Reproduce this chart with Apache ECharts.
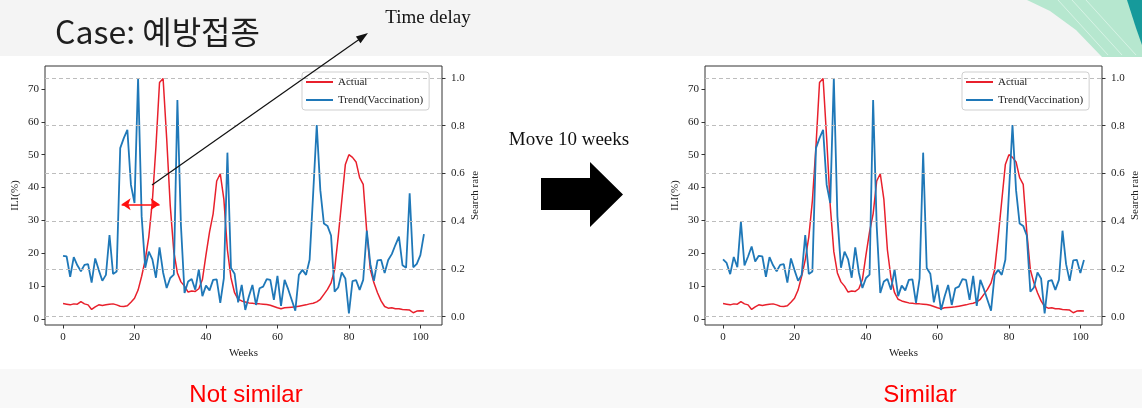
<!DOCTYPE html>
<html>
<head>
<meta charset="utf-8">
<script src="https://cdn.jsdelivr.net/npm/echarts@6/dist/echarts.min.js"></script>
<style>
html,body{margin:0;padding:0;background:#fff;}
#c{width:1142px;height:408px;}
</style>
</head>
<body>
<div id="c"></div>
<script>
// ---------- data ----------
const weeks = Array.from({length: 102}, (_, i) => i);
const xTicks = [0, 20, 40, 60, 80, 100];
const iliTicks = [0, 10, 20, 30, 40, 50, 60, 70];
const rateTicks = [0, 0.2, 0.4, 0.6, 0.8, 1.0];

// Actual ILI (%)
const actual = [
  4.7, 4.5, 4.3, 4.6, 4.5, 5.3, 4.6, 4.3, 2.9, 3.7,
  4.3, 4.1, 4.3, 4.5, 4.6, 4.3, 3.9, 3.8, 4.0, 5.1,
  6.3, 8.8, 13.0, 18.0, 25.0, 36.0, 52.5, 72.0, 73.2, 55.0,
  34.5, 20.5, 14.0, 11.3, 10.0, 8.2, 8.5, 8.4, 9.2, 12.0,
  19.5, 26.5, 32.0, 42.0, 44.2, 36.5, 21.0, 12.5, 8.0, 6.0,
  5.5, 5.2, 4.9, 4.8, 4.6, 4.6, 4.5, 4.4, 4.2, 3.8,
  3.4, 3.1, 3.4, 3.5, 3.6, 3.7, 3.9, 4.1, 4.3, 4.6,
  4.8, 5.2, 6.0, 7.5, 9.0, 11.0, 15.0, 25.0, 36.0, 47.0,
  50.0, 49.2, 47.8, 43.0, 41.0, 26.5, 15.0, 11.0, 8.0, 5.5,
  3.8, 3.3, 3.4, 3.1, 3.1, 2.9, 2.8, 2.7, 1.9, 2.4,
  2.5, 2.4
];

// Search trend (Vaccination), original timing
const trendLeft = [
  0.255, 0.252, 0.167, 0.249, 0.215, 0.19, 0.217, 0.22, 0.143, 0.244,
  0.195, 0.15, 0.175, 0.342, 0.179, 0.189, 0.706, 0.748, 0.783, 0.552,
  0.476, 1.0, 0.42, 0.205, 0.272, 0.24, 0.163, 0.29, 0.185, 0.12,
  0.162, 0.176, 0.907, 0.38, 0.099, 0.147, 0.158, 0.113, 0.198, 0.086,
  0.13, 0.11, 0.154, 0.156, 0.058, 0.16, 0.687, 0.204, 0.18, 0.06,
  0.133, 0.028, 0.084, 0.133, 0.049, 0.119, 0.126, 0.157, 0.154, 0.07,
  0.171, 0.045, 0.154, 0.115, 0.07, 0.025, 0.175, 0.196, 0.175, 0.238,
  0.517, 0.803, 0.53, 0.39, 0.38, 0.34, 0.105, 0.122, 0.185, 0.16,
  0.014, 0.149, 0.153, 0.112, 0.154, 0.36, 0.22, 0.15, 0.236, 0.238,
  0.183, 0.237, 0.262, 0.3, 0.335, 0.215, 0.205, 0.517, 0.207, 0.221,
  0.258, 0.346
];
// The 10 earlier weeks of the trend, visible once it is moved by 10 weeks
const trendEarly = [0.24, 0.225, 0.178, 0.25, 0.207, 0.398, 0.215, 0.252, 0.294, 0.231];
const shiftWeeks = 10;
const trendRight = trendEarly.concat(trendLeft.slice(0, weeks.length - shiftWeeks));

// ---------- styling ----------
const SERIF = 'Liberation Serif';
const RED = '#e8202c';
const BLUE = '#1f78b8';
const TXT = '#222';

function pairs(arr) { return weeks.map((w, i) => [w, arr[i]]); }

function xAxisCfg(g) {
  return {
    type: 'value', gridIndex: g, position: 'bottom', min: -5.05, max: 106.05,
    axisLine: {show: false, onZero: false},
    axisTick: {show: true, customValues: xTicks, length: 3.5, lineStyle: {color: '#333'}},
    axisLabel: {customValues: xTicks, fontFamily: SERIF, fontSize: 11, color: TXT, margin: 7},
    splitLine: {show: false},
    name: 'Weeks', nameLocation: 'middle', nameGap: 22,
    nameTextStyle: {fontFamily: SERIF, fontSize: 11, color: TXT}
  };
}
function yLeftCfg(g) {
  return {
    type: 'value', gridIndex: g, position: 'left', min: -1.83, max: 77.0,
    axisLine: {show: false, onZero: false},
    axisTick: {show: true, customValues: iliTicks, length: 3.5, lineStyle: {color: '#333'}},
    axisLabel: {customValues: iliTicks, fontFamily: SERIF, fontSize: 11, color: TXT, margin: 6},
    splitLine: {show: false},
    name: 'ILI(%)', nameLocation: 'middle', nameGap: 24,
    nameTextStyle: {fontFamily: SERIF, fontSize: 11, color: TXT}
  };
}
function yRightCfg(g) {
  return {
    type: 'value', gridIndex: g, position: 'right', min: -0.035, max: 1.05,
    axisLine: {show: false, onZero: false},
    axisTick: {show: true, customValues: rateTicks, length: 3.5, lineStyle: {color: '#333'}},
    axisLabel: {customValues: rateTicks, fontFamily: SERIF, fontSize: 11, color: TXT, margin: 9,
      formatter: v => v.toFixed(1)},
    splitLine: {show: false},
    name: 'Search rate', nameLocation: 'middle', nameGap: 28,
    nameTextStyle: {fontFamily: SERIF, fontSize: 11, color: TXT}
  };
}
function gridLines(g) {
  return {
    type: 'line', name: '_grid' + g, xAxisIndex: g, yAxisIndex: g * 2 + 1, data: [],
    z: 1, silent: true,
    markLine: {
      silent: true, symbol: ['none', 'none'], label: {show: false},
      lineStyle: {color: '#bdbdbd', type: [4, 3], width: 1},
      data: rateTicks.map(v => ({yAxis: v}))
    }
  };
}
function legendCfg(left) {
  return {
    data: [{name: 'Actual', icon: 'rect'}, {name: 'Trend(Vaccination)', icon: 'rect'}],
    orient: 'vertical', left: left, top: 72,
    itemWidth: 27, itemHeight: 2, itemGap: 6, padding: [4, 6, 4, 4],
    backgroundColor: '#fff', borderColor: '#cfcfcf', borderWidth: 1, borderRadius: 3,
    textStyle: {fontFamily: SERIF, fontSize: 11, color: TXT, lineHeight: 12}
  };
}

const option = {
  animation: false,
  backgroundColor: '#ffffff',
  grid: [
    {left: 45, top: 66, width: 397, height: 259, show: true, borderColor: '#333', borderWidth: 1, backgroundColor: '#fff'},
    {left: 705, top: 66, width: 397, height: 259, show: true, borderColor: '#333', borderWidth: 1, backgroundColor: '#fff'}
  ],
  xAxis: [xAxisCfg(0), xAxisCfg(1)],
  yAxis: [yLeftCfg(0), yRightCfg(0), yLeftCfg(1), yRightCfg(1)],
  legend: [legendCfg(302), legendCfg(962)],
  series: [
    gridLines(0),
    gridLines(1),
    {
      type: 'line', name: 'Actual', xAxisIndex: 0, yAxisIndex: 0, data: pairs(actual),
      symbol: 'none', showSymbol: false, color: RED, lineStyle: {color: RED, width: 1.5}, z: 3,
      markLine: {
        silent: true, symbol: ['arrow', 'arrow'], symbolSize: [9, 9], label: {show: false},
        lineStyle: {color: '#ff1010', type: 'solid', width: 1.6},
        data: [[{coord: [16.4, 34.9]}, {coord: [27.0, 34.9]}]]
      }
    },
    {
      type: 'line', name: 'Trend(Vaccination)', xAxisIndex: 0, yAxisIndex: 1, data: pairs(trendLeft),
      symbol: 'none', showSymbol: false, color: BLUE, lineStyle: {color: BLUE, width: 1.8}, z: 4
    },
    {
      type: 'line', name: 'Actual', xAxisIndex: 1, yAxisIndex: 2, data: pairs(actual),
      symbol: 'none', showSymbol: false, color: RED, lineStyle: {color: RED, width: 1.5}, z: 3
    },
    {
      type: 'line', name: 'Trend(Vaccination)', xAxisIndex: 1, yAxisIndex: 3, data: pairs(trendRight),
      symbol: 'none', showSymbol: false, color: BLUE, lineStyle: {color: BLUE, width: 1.8}, z: 4
    }
  ],
  graphic: [
    {type: 'rect', z: -10, shape: {x: 0, y: 0, width: 1142, height: 56}, style: {fill: '#f4f4f4'}},
    {type: 'rect', z: -10, shape: {x: 0, y: 369, width: 1142, height: 39}, style: {fill: '#f8f8f8'}},
    {type: 'polygon', z: -9, shape: {points: [[1027, 0], [1142, 0], [1142, 57], [1102, 57], [1076, 30], [1050, 11]]},
      style: {fill: '#b6e7cf'}},
    {type: 'line', z: -8, shape: {x1: 1058, y1: 0, x2: 1108, y2: 55}, style: {stroke: '#d7f3e5', lineWidth: 1}},
    {type: 'line', z: -8, shape: {x1: 1072, y1: 0, x2: 1122, y2: 55}, style: {stroke: '#d7f3e5', lineWidth: 1}},
    {type: 'line', z: -8, shape: {x1: 1086, y1: 0, x2: 1136, y2: 55}, style: {stroke: '#d7f3e5', lineWidth: 1}},
    {type: 'polygon', z: -7, shape: {points: [[1127, 0], [1142, 0], [1142, 45], [1136, 28]]}, style: {fill: '#169a9b'}},
    {type: 'text', z: 100, x: 55, y: 32,
      style: {text: 'Case: 예방접종', font: '32px "Noto Sans CJK KR"', fill: '#1e1e1e', align: 'left', verticalAlign: 'middle'}},
    {type: 'text', z: 100, x: 428, y: 18,
      style: {text: 'Time delay', font: '19px "Liberation Serif"', fill: '#111', align: 'center', verticalAlign: 'middle'}},
    {type: 'line', z: 100, shape: {x1: 152, y1: 185, x2: 359, y2: 39.5}, style: {stroke: '#111', lineWidth: 1.2}},
    {type: 'polygon', z: 100, shape: {points: [[368, 33], [360.5, 43.2], [355.9, 36.6]]}, style: {fill: '#111'}},
    {type: 'text', z: 100, x: 569, y: 140,
      style: {text: 'Move 10 weeks', font: '19px "Liberation Serif"', fill: '#111', align: 'center', verticalAlign: 'middle'}},
    {type: 'polygon', z: 100, shape: {points: [[541, 178], [590, 178], [590, 162], [623, 194.5], [590, 227], [590, 210], [541, 210]]},
      style: {fill: '#000'}},
    {type: 'text', z: 100, x: 246, y: 395,
      style: {text: 'Not similar', font: '24px "Liberation Sans"', fill: '#ff0000', align: 'center', verticalAlign: 'middle'}},
    {type: 'text', z: 100, x: 920, y: 395,
      style: {text: 'Similar', font: '24px "Liberation Sans"', fill: '#ff0000', align: 'center', verticalAlign: 'middle'}}
  ]
};

const chart = echarts.init(document.getElementById('c'), null, {renderer: 'canvas'});
chart.setOption(option);
</script>
</body>
</html>
